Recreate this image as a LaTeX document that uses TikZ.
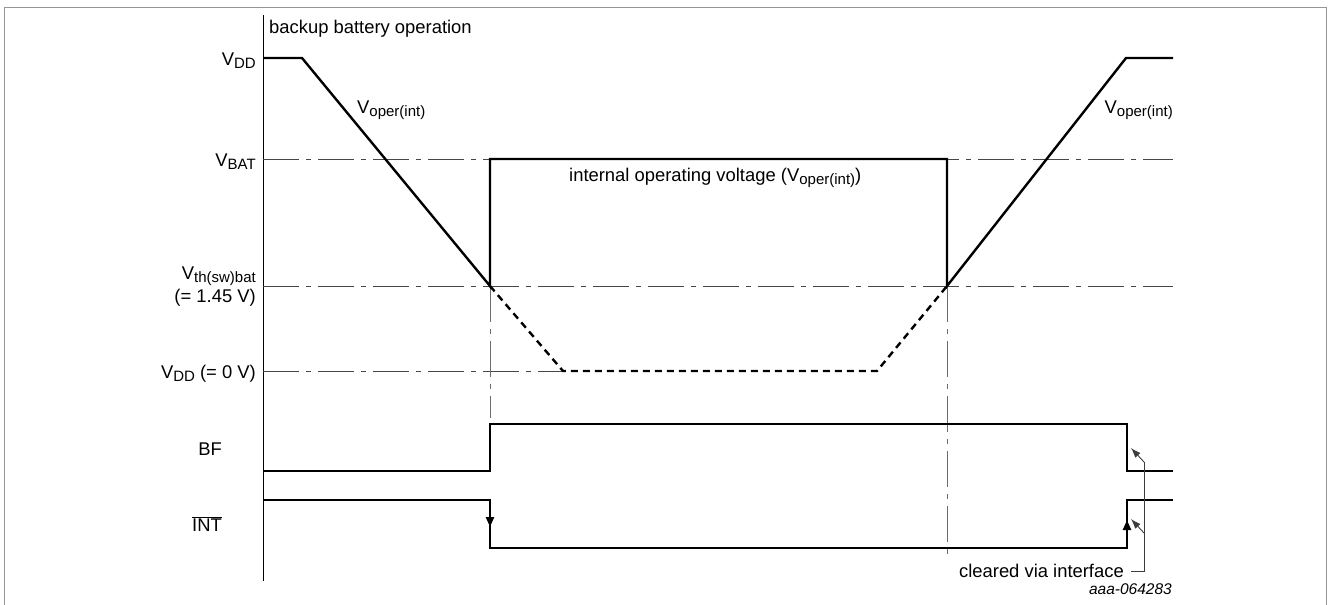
\documentclass[tikz,border=0pt]{standalone}
\usepackage{fontspec}
\setmainfont{Liberation Sans}
\usetikzlibrary{arrows.meta, positioning}
\definecolor{frameGray}{RGB}{150,150,150}
\definecolor{guideGray}{RGB}{70,70,70}
\definecolor{calloutGray}{RGB}{60,60,60}
\newcommand{\lowsub}[1]{\raisebox{-3pt}{\fontsize{15}{15}\selectfont #1}}

\begin{document}
\begin{tikzpicture}[x=1pt, y=-1pt,
signal/.style={line width=2.4pt, line join=miter, line cap=butt},
guide/.style={line width=0.9pt, color=guideGray,
dash pattern=on 36pt off 7pt on 5pt off 7pt},
vguide/.style={guide, color=guideGray!80},
lbl/.style={font=\fontsize{18.4}{22}\selectfont, inner sep=0pt},
edgearrow/.style={-{Triangle[length=10pt,width=8pt]}, line width=2.4pt},
callout/.style={line width=0.9pt, color=calloutGray},
calloutarrow/.style={callout, -{Latex[length=10pt,width=7pt]}}]
\useasboundingbox (0,0) rectangle (1328,605);
\draw[frameGray, line width=1pt] (4,605) -- (4,7) -- (1326.5,7) -- (1326.5,605);
% time axis
\draw[line width=1pt] (263,15) -- (263,581);
% reference levels
\draw[guide] (263,159) -- (1173,159);
\draw[guide] (263,286) -- (1173,286);
\draw[guide] (263,371) -- (563,371);
\draw[vguide] (490,286) -- (490,418);
\draw[vguide] (947,286) -- (947,558);
% supply and internal voltage
\draw[signal] (263,58) -- (302,58) -- (490,286) -- (490,159) -- (947,159)
    -- (947,286) -- (1126,58) -- (1173,58);
\draw[signal, dash pattern=on 7pt off 5pt] (490,286) -- (563,371) -- (877,371) -- (947,286);
% BF and INT
\draw[signal] (263,471) -- (490,471) -- (490,424) -- (1127,424) -- (1127,471) -- (1173,471);
\draw[signal] (263,500) -- (490,500) -- (490,548) -- (1127,548) -- (1127,500) -- (1173,500);
\draw[edgearrow] (490,512) -- (490,527);
\draw[edgearrow] (1127,536) -- (1127,520);
% labels
\node[lbl, anchor=base west] (mode) at (269,33) {backup battery operation};
\node[lbl, anchor=base east] (vdd) at (256,65) {V\lowsub{DD}};
\node[lbl, anchor=base east] (vbat) at (256,166) {V\lowsub{BAT}};
\node[lbl, anchor=base east] (vth) at (256,279) {V\lowsub{th(sw)bat}};
\node[lbl, anchor=base east] (vthval) at (256,302) {(= 1.45 V)};
\node[lbl, anchor=base east] (vzero) at (256,378) {V\lowsub{DD} (= 0 V)};
\node[lbl, anchor=base east] (bf) at (222,455) {BF};
\node[lbl, anchor=base east] (int) at (222,531) {$\overline{\mbox{INT}}$};
\node[lbl, anchor=base west] (vopl) at (357,113) {V\lowsub{oper(int)}};
\node[lbl, anchor=base east] (vopr) at (1173,113) {V\lowsub{oper(int)}};
\node[lbl, anchor=base west] (intv) at (569,181) {internal operating voltage (V\lowsub{oper(int)})};
\node[lbl, anchor=east] (clr) at (1124,571) {cleared via interface};
\node[lbl, anchor=base east, font=\fontsize{15.5}{18}\selectfont\itshape] (fig) at (1172,594) {aaa-064283};
% callout
\coordinate (bend) at (1144,571);
\coordinate (bftop) at (1144,462);
\coordinate (intmid) at (1144,533);
\coordinate (bftip) at (1131,448);
\coordinate (inttip) at (1131,519);
\draw[callout] ([xshift=7pt]clr.east) -- (bend) -- (bftop);
\draw[calloutarrow] (bftop) -- (bftip);
\draw[calloutarrow] (intmid) -- (inttip);
\end{tikzpicture}
\end{document}
